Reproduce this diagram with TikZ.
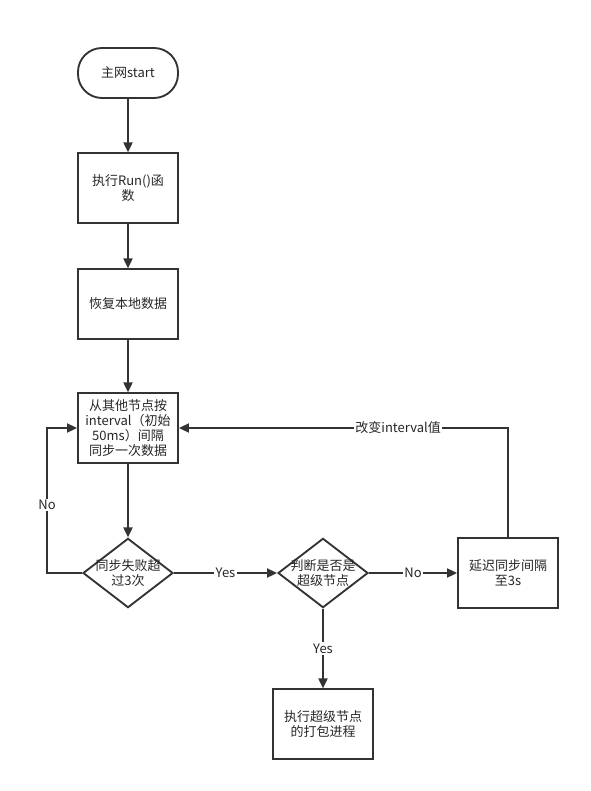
\documentclass[tikz,border=0pt]{standalone}
\usepackage{fontspec}
\setmainfont{Noto Sans CJK SC}
\usetikzlibrary{shapes,arrows.meta,positioning}

\begin{document}
\begin{tikzpicture}[x=0.75pt, y=-0.75pt,
    every node/.style={font=\fontsize{9.75}{11.25}\selectfont, text=black!85},
    proc/.style={draw=black!80, line width=1.4pt, minimum width=75pt, minimum height=52pt, align=center, inner sep=2pt},
    term/.style={proc, minimum height=37.5pt, rounded corners=18pt},
    decide/.style={draw=black!80, line width=1.4pt, diamond, inner sep=0pt, minimum width=67.5pt, minimum height=52pt},
    flow/.style={draw=black!80, line width=1.4pt, -{Triangle[length=7.5pt,width=6.75pt]}},
    tag/.style={fill=white, inner sep=1pt}]
\useasboundingbox (0,0) rectangle (591,791);

    % Nodes
    \node[term] (start) at (128,73) {主网start};
    \node[proc] (run) at (128,188) {执行Run()函\\数};
    \node[proc] (restore) at (128,304) {恢复本地数据};
    \node[proc] (sync) at (128,428) {从其他节点按\\interval（初始\\50ms）间隔\\同步一次数据};
    \node[decide, label={[align=center]center:同步失败超\\过3次}] (fail) at (128,573) {};
    \node[decide, label={[align=center]center:判断是否是\\超级节点}] (super) at (323,573) {};
    \node[proc] (delay) at (508,573) {延迟同步间隔\\至3s};
    \node[proc] (pack) at (323,724) {执行超级节点\\的打包进程};
    \coordinate (noturn) at (47,573);

    % Connectors
    \draw[flow] (start) -- (run);
    \draw[flow] (run) -- (restore);
    \draw[flow] (restore) -- (sync);
    \draw[flow] (sync) -- (fail);
    \draw[flow] (fail.west) -- (noturn) |- node[tag, pos=0.234]{No} (sync.west);
    \draw[flow] (fail) -- node[tag]{Yes} (super);
    \draw[flow] (super) -- node[tag]{No} (delay);
    \draw[flow] (super) -- node[tag]{Yes} (pack);
    \draw[flow] (delay.north) |- node[tag, pos=0.667]{改变interval值} (sync.east);
\end{tikzpicture}
\end{document}
